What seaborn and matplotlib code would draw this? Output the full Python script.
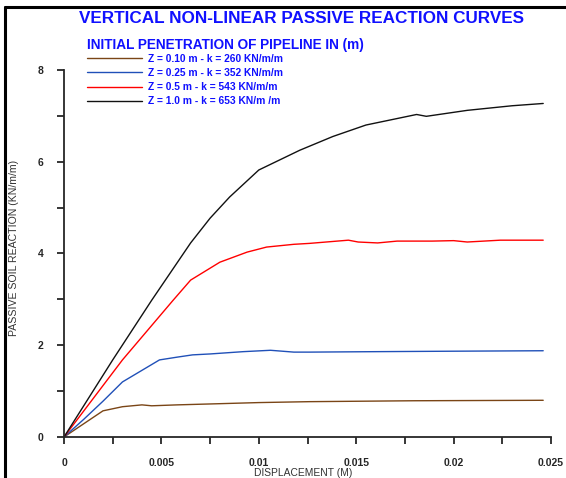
import pandas as pd
import matplotlib
matplotlib.use("Agg")
import matplotlib.pyplot as plt
import seaborn as sns
from matplotlib.lines import Line2D

# ========== DATA ==========
labels = ["Z = 0.10 m - k = 260 KN/m/m",
          "Z = 0.25 m - k = 352 KN/m/m",
          "Z = 0.5 m - k = 543 KN/m/m",
          "Z = 1.0 m - k = 653 KN/m /m"]

brown_x = [0, 0.0020, 0.0030, 0.0040, 0.0045, 0.0058, 0.0075, 0.0100, 0.0126, 0.0180, 0.0246]
brown_y = [0, 0.57, 0.66, 0.70, 0.68, 0.70, 0.72, 0.75, 0.77, 0.79, 0.80]

blue_x = [0, 0.0010, 0.0020, 0.0030, 0.0049, 0.0058, 0.0066, 0.0075, 0.0092, 0.0106, 0.0118, 0.0126, 0.0160, 0.0200, 0.0246]
blue_y = [0, 0.38, 0.78, 1.20, 1.68, 1.74, 1.79, 1.81, 1.86, 1.89, 1.85, 1.85, 1.86, 1.87, 1.88]

red_x = [0, 0.0030, 0.0056, 0.0065, 0.0080, 0.0094, 0.0104, 0.0118, 0.0126, 0.0146, 0.0151,
         0.0161, 0.0171, 0.0189, 0.0200, 0.0207, 0.0224, 0.0246]
red_y = [0, 1.68, 2.98, 3.42, 3.81, 4.03, 4.14, 4.20, 4.22, 4.29, 4.25,
         4.23, 4.27, 4.27, 4.28, 4.25, 4.29, 4.29]

black_x = [0, 0.0025, 0.0045, 0.0065, 0.0075, 0.0085, 0.0100, 0.0121, 0.0138, 0.0155,
           0.0181, 0.0186, 0.0207, 0.0230, 0.0246]
black_y = [0, 1.68, 2.98, 4.23, 4.77, 5.23, 5.82, 6.25, 6.55, 6.80,
           7.03, 6.99, 7.12, 7.22, 7.27]

x_ticks = [0, 0.005, 0.01, 0.015, 0.02, 0.025]
x_ticklabels = ["0", "0.005", "0.01", "0.015", "0.02", "0.025"]
y_ticks = [0, 2, 4, 6, 8]

colors = ["#7a4516", "#2050b8", "#ff0000", "#111111"]

# build long-form table
frames = []
for lab, xs, ys in zip(labels, [brown_x, blue_x, red_x, black_x], [brown_y, blue_y, red_y, black_y]):
    frames.append(pd.DataFrame({"x": xs, "y": ys, "curve": lab}))
df = pd.concat(frames, ignore_index=True)

# ========== PLOT ==========
sns.set_style("ticks")
plt.rcParams["font.family"] = ["Liberation Sans", "DejaVu Sans"]

fig = plt.figure(figsize=(5.66, 4.78), dpi=100)
ax = fig.add_axes([0.1131, 0.0858, 0.8604, 0.7678])

sns.lineplot(data=df, x="x", y="y", hue="curve", palette=colors, hue_order=labels,
             sort=False, estimator=None, linewidth=1.0, ax=ax, legend=False)

ax.set_xlim(0, 0.025)
ax.set_ylim(0, 8)
ax.set_xticks(x_ticks)
ax.set_xticklabels(x_ticklabels)
ax.set_xticks([0.0025, 0.0075, 0.0125, 0.0175, 0.0225], minor=True)
ax.set_yticks(y_ticks)
ax.set_yticklabels([str(v) for v in y_ticks])
ax.set_yticks([1, 3, 5, 7], minor=True)
for lbl in ax.get_xticklabels() + ax.get_yticklabels():
    lbl.set_fontweight("bold")
    lbl.set_fontsize(7.5)
ax.tick_params(which="both", direction="out", width=1.3, length=5)
ax.tick_params(axis="x", pad=10)
ax.tick_params(axis="y", pad=10)
sns.despine(ax=ax)
for sp in ["left", "bottom"]:
    ax.spines[sp].set_linewidth(1.3)

ax.set_xlabel("DISPLACEMENT (M)", fontsize=7.4, color="#333333")
ax.set_ylabel("PASSIVE SOIL REACTION (KN/m/m)", fontsize=7.6, color="#333333")
ax.xaxis.set_label_coords(0.492, -0.085)
ax.yaxis.set_label_coords(-0.093, 0.515)

# titles
fig.text(0.532, 0.961, "VERTICAL NON-LINEAR PASSIVE REACTION CURVES", ha="center", va="center",
         fontsize=12.3, fontweight="bold", color="#1010ff")
fig.text(0.154, 0.905, "INITIAL PENETRATION OF PIPELINE IN (m)", ha="left", va="center",
         fontsize=9.8, fontweight="bold", color="#1010ff")

# legend
handles = [Line2D([0], [0], color=c, lw=1.0) for c in colors]
leg = fig.legend(handles, labels, loc="upper left", bbox_to_anchor=(0.141, 0.903),
                 frameon=False, fontsize=7.35, handlelength=5.4, handletextpad=0.6,
                 labelspacing=0.42, borderpad=0.2)
for t in leg.get_texts():
    t.set_color("#1010ff")
    t.set_fontweight("bold")

# page border (top and left)
fig.add_artist(Line2D([0.009, 1.0], [0.986, 0.986], color="black", lw=2.2, transform=fig.transFigure))
fig.add_artist(Line2D([0.009, 0.009], [0.0, 0.986], color="black", lw=2.2, transform=fig.transFigure))

plt.savefig("out.png", dpi=100)
